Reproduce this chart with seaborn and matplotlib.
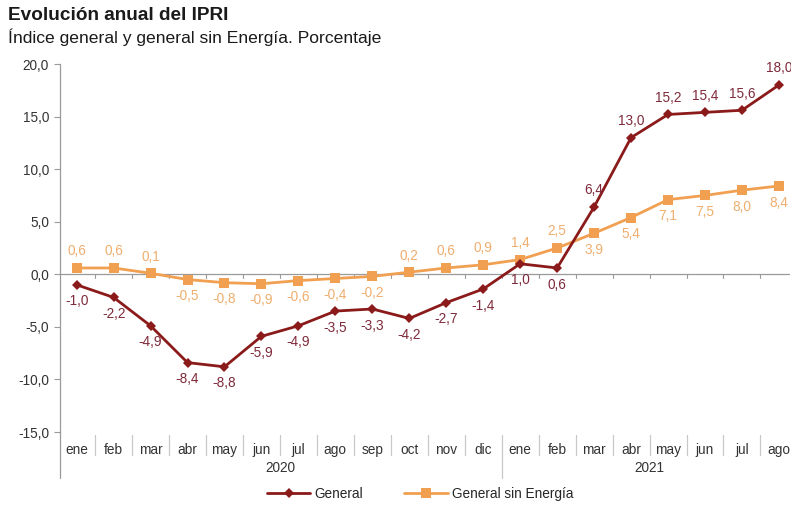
import matplotlib
matplotlib.use("Agg")
import matplotlib.pyplot as plt
import matplotlib.transforms as mtransforms
import seaborn as sns
import pandas as pd
import numpy as np

months = ["ene", "feb", "mar", "abr", "may", "jun", "jul", "ago", "sep", "oct", "nov", "dic",
          "ene", "feb", "mar", "abr", "may", "jun", "jul", "ago"]
years = ["2020", "2021"]
year_counts = [12, 8]
general = [-1.0, -2.2, -4.9, -8.4, -8.8, -5.9, -4.9, -3.5, -3.3, -4.2, -2.7, -1.4,
           1.0, 0.6, 6.4, 13.0, 15.2, 15.4, 15.6, 18.0]
sin_energia = [0.6, 0.6, 0.1, -0.5, -0.8, -0.9, -0.6, -0.4, -0.2, 0.2, 0.6, 0.9,
               1.4, 2.5, 3.9, 5.4, 7.1, 7.5, 8.0, 8.4]
# label placement: 1 = above, -1 = below
general_pos = [-1] * 14 + [1] * 6
sin_pos = [1, 1, 1, -1, -1, -1, -1, -1, -1, 1, 1, 1, 1, 1, -1, -1, -1, -1, -1, -1]

sns.set_theme(style="white")
plt.rcParams["font.family"] = ["Liberation Sans", "DejaVu Sans"]

RED = "#8B1A1A"
RED_TXT = "#7E2A3A"
ORANGE = "#F0A050"
ORANGE_TXT = "#EFAE6E"
GREY = "#9a9a9a"
FS = 9.8

fig = plt.figure(figsize=(7.91, 5.05), dpi=100)
ax = fig.add_axes([60 / 791, 1 - 432 / 505, (790 - 60) / 791, (432 - 64) / 505])

df = pd.DataFrame({"x": np.arange(len(months)), "General": general,
                   "General sin Energía": sin_energia})

sns.lineplot(data=df, x="x", y="General sin Energía", ax=ax, color=ORANGE, lw=2,
             marker="s", markersize=7, markeredgewidth=0, label="General sin Energía")
sns.lineplot(data=df, x="x", y="General", ax=ax, color=RED, lw=2,
             marker="D", markersize=5, markeredgewidth=0, label="General")

def fmt(v):
    return f"{v:.1f}".replace(".", ",")

for i, (v, p) in enumerate(zip(general, general_pos)):
    ax.annotate(fmt(v), (i, v), xytext=(0, 12 * p), textcoords="offset points",
                ha="center", va="center", fontsize=FS, color=RED_TXT)
for i, (v, p) in enumerate(zip(sin_energia, sin_pos)):
    ax.annotate(fmt(v), (i, v), xytext=(0, 12 * p), textcoords="offset points",
                ha="center", va="center", fontsize=FS, color=ORANGE_TXT)

ax.set_ylim(-15, 20)
ax.set_xlim(-0.45, 19.3)
ax.set_yticks(np.arange(-15, 21, 5))
ax.set_yticklabels([fmt(v) for v in np.arange(-15, 21, 5)], fontsize=FS, color="#333333")
ax.tick_params(axis="y", length=4, width=0.8, color=GREY, left=True, pad=4)
ax.set_xticks(range(len(months)))
ax.set_xticklabels(months, fontsize=FS, color="#333333")
ax.tick_params(axis="x", length=0, pad=8)
ax.set_xlabel("")
ax.set_ylabel("")

for s in ["top", "right", "bottom"]:
    ax.spines[s].set_visible(False)
ax.spines["left"].set_color(GREY)
ax.spines["left"].set_linewidth(0.9)
ax.spines["left"].set_bounds(-15, 20)

# zero line with small ticks
ax.axhline(0, color=GREY, lw=0.9, zorder=1)
trans = mtransforms.blended_transform_factory(ax.transData, ax.transAxes)
pt = 1 / (432 - 64)
for b in np.arange(0.5, 19.5, 1):
    ax.plot([b, b], [0, -0.35], color=GREY, lw=0.8, zorder=1)
# category separators below the plot
for k, b in enumerate(np.arange(0.5, 19.5, 1)):
    bottom = -46 * pt if k == 11 else -23 * pt
    ax.plot([b, b], [-3 * pt, bottom], color="#c8c8c8", lw=0.9, transform=trans, clip_on=False)
# extend left axis down
ax.plot([-0.45, -0.45], [0, -46 * pt], color=GREY, lw=0.9, transform=trans, clip_on=False)

start = 0
for y, c in zip(years, year_counts):
    ax.text(start + (c - 1) / 2, -36 * pt, y, transform=trans, ha="center", va="center",
            fontsize=FS, color="#333333")
    start += c

ax.get_legend().remove()
handles, labels = ax.get_legend_handles_labels()
order = [labels.index("General"), labels.index("General sin Energía")]
fig.legend([handles[i] for i in order], [labels[i] for i in order], loc="center",
           bbox_to_anchor=(420 / 791, 1 - 494 / 505), ncol=2, frameon=False, fontsize=FS,
           handlelength=3.2, columnspacing=3, handletextpad=0.3)

fig.text(8 / 791, 1 - 15 / 505, "Evolución anual del IPRI", fontsize=13.7, fontweight="bold",
         va="center", ha="left", color="#1a1a1a")
fig.text(8 / 791, 1 - 37 / 505, "Índice general y general sin Energía. Porcentaje", fontsize=12.6,
         va="center", ha="left", color="#1a1a1a")

fig.savefig("out.png", dpi=100)
